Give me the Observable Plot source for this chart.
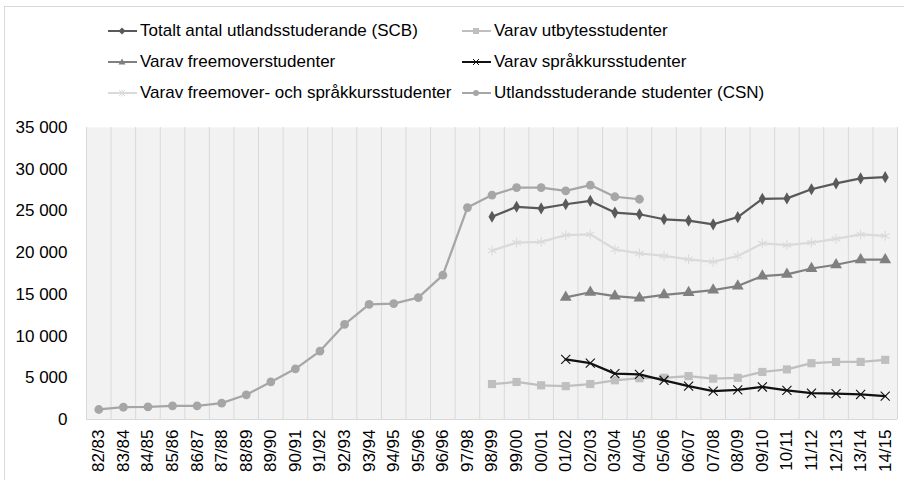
<!DOCTYPE html>
<html><head><meta charset="utf-8">
<script src="https://cdn.jsdelivr.net/npm/d3@7"></script>
<script src="https://cdn.jsdelivr.net/npm/@observablehq/plot@0.6"></script>
<style>
body{margin:0;background:#fff;font-family:"Liberation Sans",Arial,sans-serif;}
#wrap{position:relative;width:904px;height:480px;overflow:hidden;background:#fff;}
#border{position:absolute;left:4px;top:6px;width:940px;height:520px;border-left:1px solid #d9d9d9;border-top:1px solid #d9d9d9;}
.leg{position:absolute;height:20px;display:flex;align-items:center;font-size:17px;color:#000;white-space:nowrap;}
.leg svg{margin-right:3px;}
#chart{position:absolute;left:0;top:110px;}
</style></head>
<body>
<div id="wrap"><div id="border"></div><div id="legend"></div><div id="chart"></div></div>
<script>
const categories = ["82/83","83/84","84/85","85/86","86/87","87/88","88/89","89/90","90/91","91/92","92/93","93/94","94/95","95/96","96/96","97/98","98/99","99/00","00/01","01/02","02/03","03/04","04/05","05/06","06/07","07/08","08/09","09/10","10/11","11/12","12/13","13/14","14/15"];

const totalSCB = [null,null,null,null,null,null,null,null,null,null,null,null,null,null,null,null,
  24300,25500,25300,25800,26200,24800,24600,24000,23850,23400,24250,26450,26500,27600,28300,28900,29050];
const utbyte = [null,null,null,null,null,null,null,null,null,null,null,null,null,null,null,null,
  4250,4500,4100,4000,4250,4700,4950,5000,5200,4900,5000,5700,6000,6750,6900,6900,7150];
const freemover = [null,null,null,null,null,null,null,null,null,null,null,null,null,null,null,null,null,null,null,
  14650,15250,14800,14550,14950,15200,15500,16000,17200,17400,18100,18550,19150,19150];
const sprakkurs = [null,null,null,null,null,null,null,null,null,null,null,null,null,null,null,null,null,null,null,
  7200,6750,5500,5400,4700,4000,3400,3550,3900,3500,3150,3100,3000,2800];
const freeSprak = [null,null,null,null,null,null,null,null,null,null,null,null,null,null,null,null,
  20250,21200,21300,22100,22200,20400,19900,19600,19200,18900,19600,21100,20900,21200,21650,22200,22000];
const csn = [1200,1470,1520,1640,1640,1960,2960,4500,6070,8200,11400,13800,13900,14600,17300,25400,
  26900,27800,27800,27400,28100,26700,26400,null,null,null,null,null,null,null,null,null,null];

const seriesNames = ["Totalt antal utlandsstuderande (SCB)","Varav utbytesstudenter","Varav freemoverstudenter","Varav språkkursstudenter","Varav freemover- och språkkursstudenter","Utlandsstuderande studenter (CSN)"];
const seriesValues = [totalSCB, utbyte, freemover, sprakkurs, freeSprak, csn];
const seriesColors = ["#595959","#bfbfbf","#808080","#111111","#dadada","#a6a6a6"];
const seriesSymbols = ["diamond","square","triangle","times","asterisk","circle"];
const yTicks = [0,5000,10000,15000,20000,25000,30000,35000];

const fmt = d => d3.format(",")(d).replace(/,/g, " ");

// Legend
const legend = document.getElementById("legend");
const legendPos = [[108,21],[462,21],[108,52],[462,52],[108,83],[462,83]];
seriesNames.forEach((name, k) => {
  const div = document.createElement("div");
  div.className = "leg";
  div.style.left = legendPos[k][0] + "px";
  div.style.top = legendPos[k][1] + "px";
  const c = seriesColors[k];
  const sym = seriesSymbols[k];
  let marker = "";
  if (sym === "diamond") marker = `<path d="M14,6.5L17.5,10L14,13.5L10.5,10Z" fill="${c}"/>`;
  else if (sym === "square") marker = `<rect x="11" y="7" width="6" height="6" fill="${c}"/>`;
  else if (sym === "triangle") marker = `<path d="M14,6.5L17.5,12.5L10.5,12.5Z" fill="${c}"/>`;
  else if (sym === "times") marker = `<path d="M11,7L17,13M17,7L11,13" stroke="${c}" stroke-width="1"/>`;
  else if (sym === "asterisk") marker = `<path d="M11,7L17,13M17,7L11,13M14,6.5L14,13.5" stroke="${c}" stroke-width="1"/>`;
  else marker = `<circle cx="14" cy="10" r="3" fill="${c}"/>`;
  div.innerHTML = `<svg width="29" height="20"><line x1="0" y1="10" x2="29" y2="10" stroke="${c}" stroke-width="2"/>${marker}</svg><span>${name}</span>`;
  legend.appendChild(div);
});

// Long table
const rows = [];
seriesValues.forEach((vals, k) => vals.forEach((v, i) => {
  if (v != null) rows.push({series: seriesNames[k], k, i, value: v});
}));

const gridX = categories.map((c, i) => i - 0.5).concat([categories.length - 0.5]);

const marks = [
  Plot.frame({fill: "#f2f2f2", stroke: null}),
  Plot.ruleX(gridX, {x: d => d, y1: 0, y2: 35000, stroke: "#d9d9d9", strokeWidth: 1}),
  Plot.ruleY([0], {stroke: "#d9d9d9"}),
  Plot.axisY({ticks: yTicks, tickFormat: fmt, tickSize: 0, tickPadding: 19, label: null}),
  Plot.axisX({ticks: categories.map((c, i) => i), tickFormat: i => categories[i], tickRotate: -90, tickSize: 0, tickPadding: 10, label: null})
];
seriesNames.forEach((name, k) => {
  const data = rows.filter(r => r.k === k);
  const c = seriesColors[k];
  marks.push(Plot.line(data, {x: "i", y: "value", stroke: c, strokeWidth: 2.25}));
  const sym = seriesSymbols[k];
  if (sym === "times" || sym === "asterisk") {
    marks.push(Plot.dot(data, {x: "i", y: "value", symbol: sym, r: sym === "times" ? 4.2 : 4.6, stroke: c, strokeWidth: 1.1}));
  } else {
    const r = sym === "circle" ? 4.4 : sym === "diamond" ? 3.7 : sym === "square" ? 4.6 : 4.4;
    marks.push(Plot.dot(data, {x: "i", y: "value", symbol: sym, r, fill: c, stroke: null}));
  }
});

const chart = Plot.plot({
  width: 904,
  height: 370,
  marginTop: 17,
  marginLeft: 86,
  marginRight: 7,
  marginBottom: 61,
  style: {fontSize: "17px", fontFamily: "'Liberation Sans', Arial, sans-serif", color: "#000", background: "transparent"},
  x: {type: "linear", domain: [-0.5, categories.length - 0.5]},
  y: {domain: [0, 35000]},
  marks
});
document.getElementById("chart").appendChild(chart);
</script>
</body></html>
